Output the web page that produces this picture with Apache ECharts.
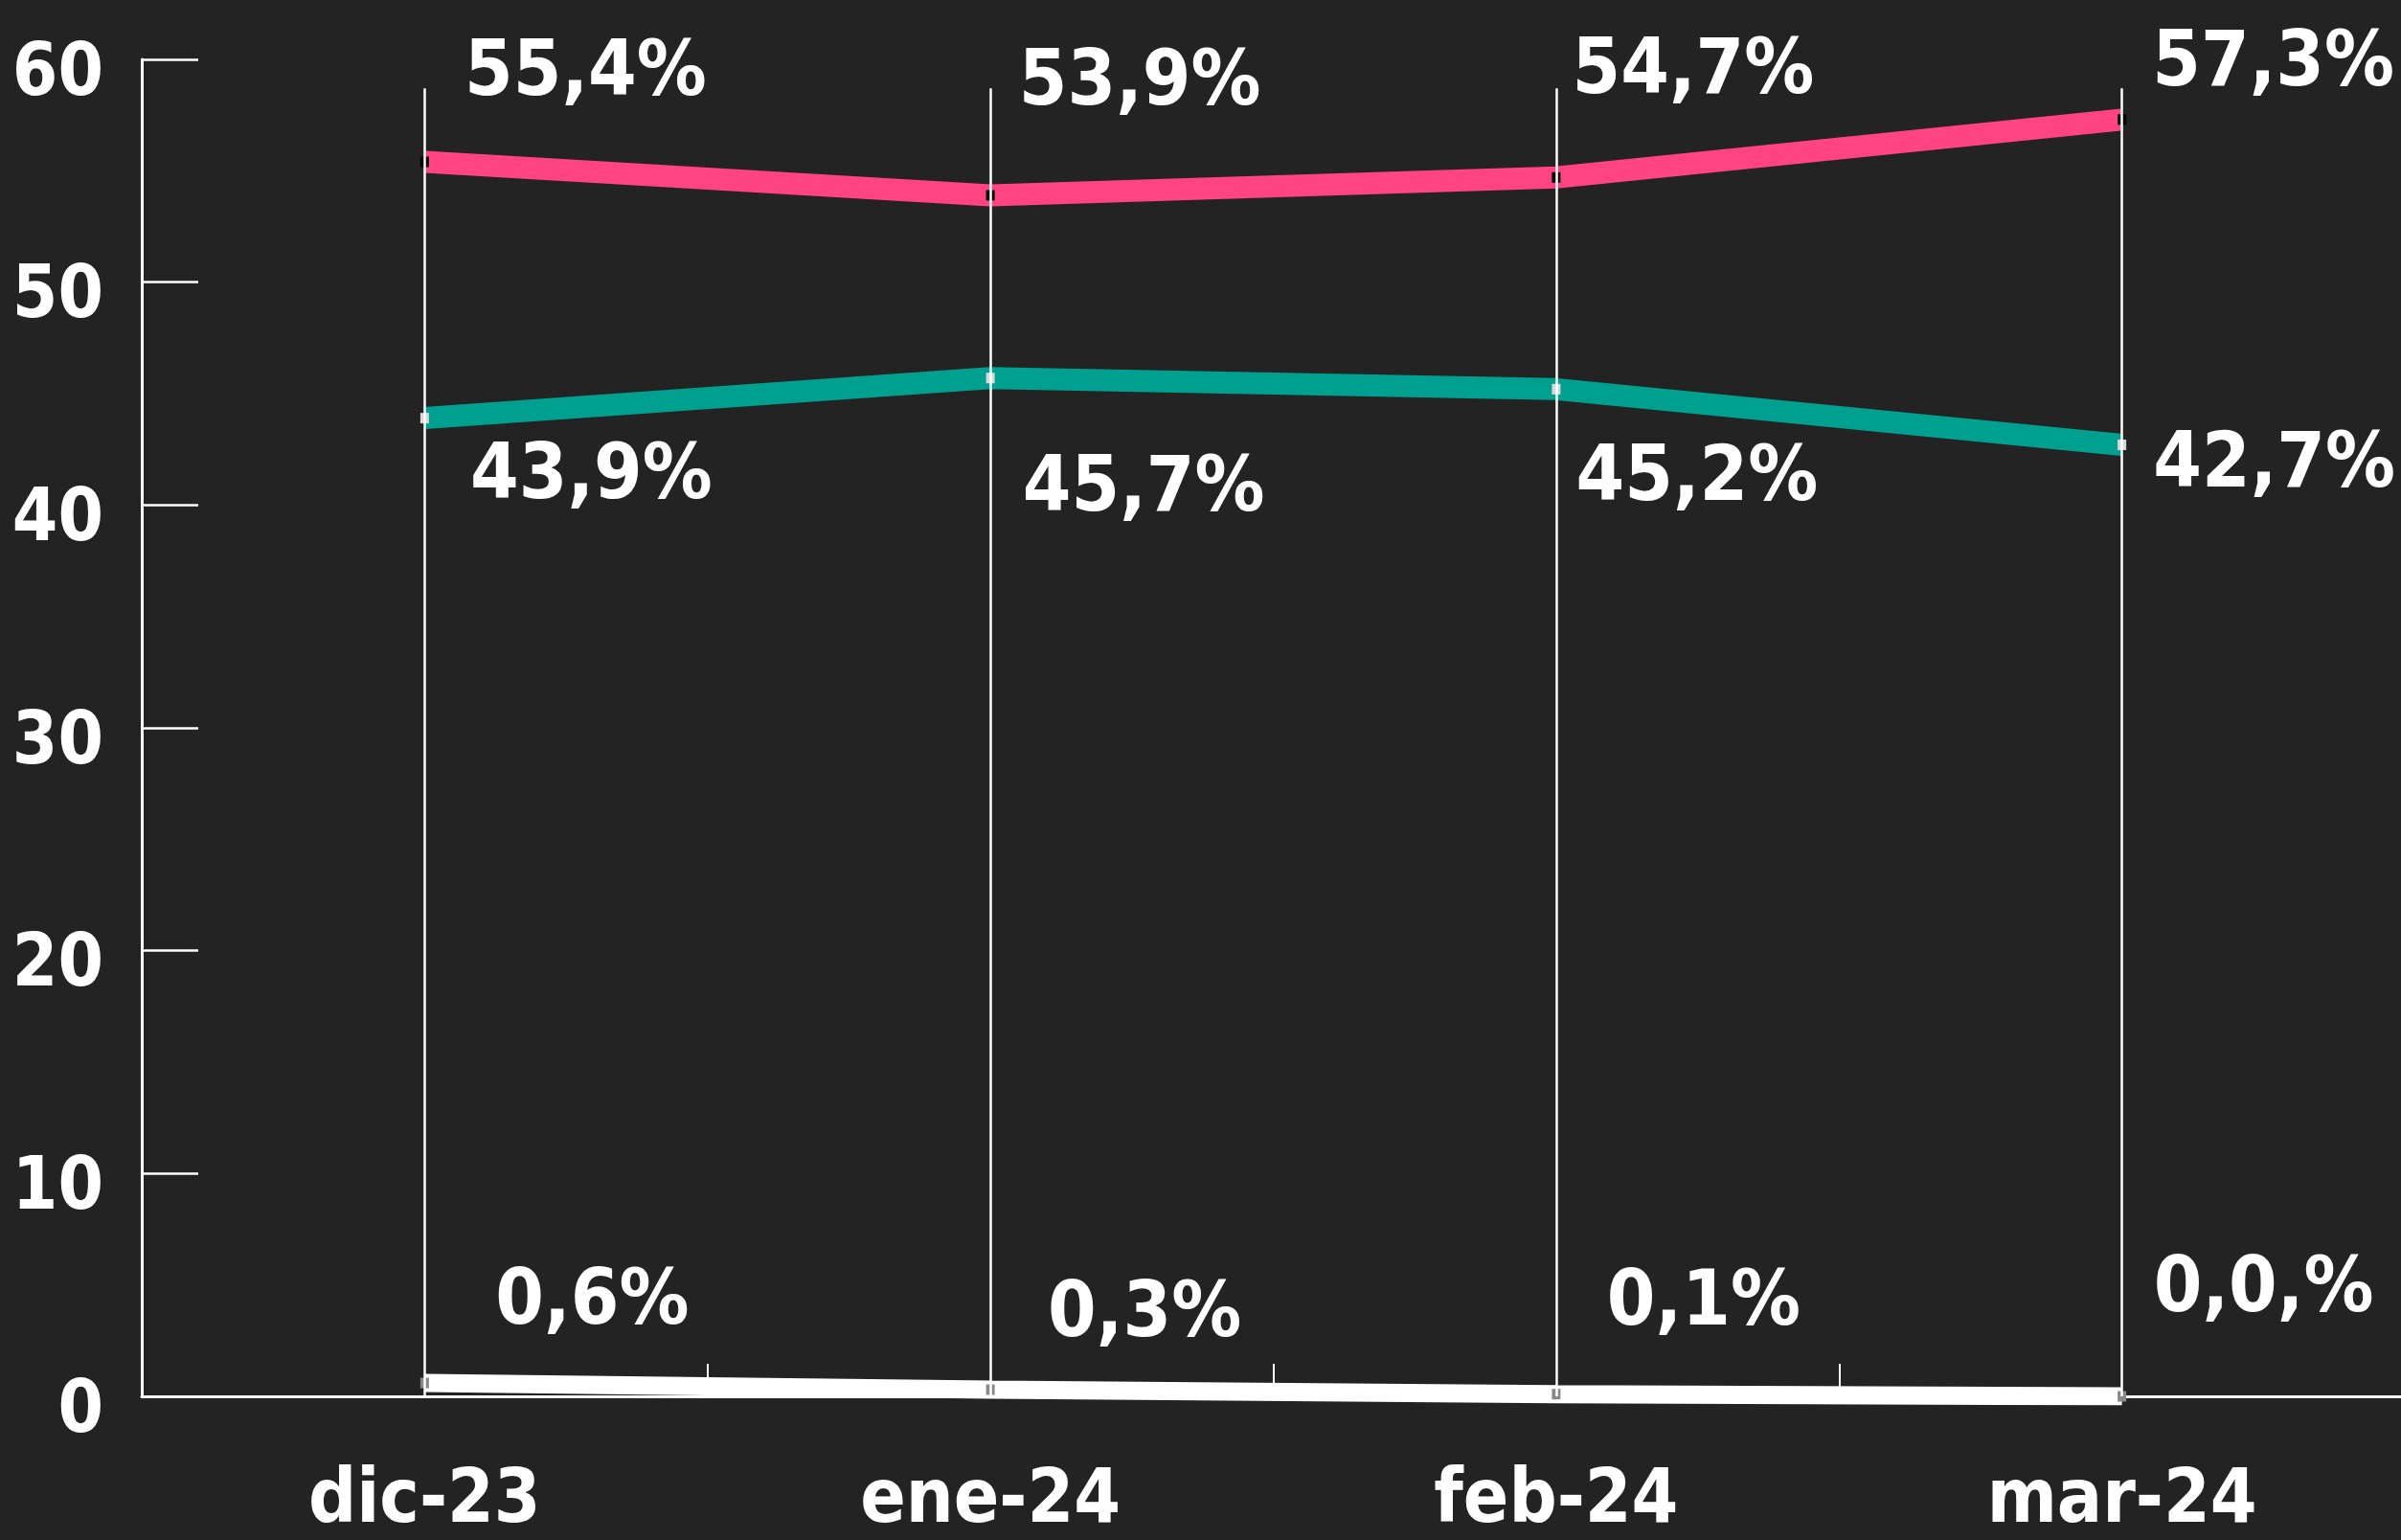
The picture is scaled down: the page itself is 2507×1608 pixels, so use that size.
<!DOCTYPE html>
<html>
<head>
<meta charset="utf-8">
<script src="https://cdn.jsdelivr.net/npm/echarts@6/dist/echarts.min.js"></script>
<style>
  html, body { margin: 0; padding: 0; background: #232323; overflow: hidden; }
  #chart { width: 2507px; height: 1608px; }
</style>
</head>
<body>
<div id="chart"></div>
<script>
// ---- data ----
const categories = ['dic-23', 'ene-24', 'feb-24', 'mar-24'];
const pinkValues = [55.4, 53.9, 54.7, 57.3];
const tealValues = [43.9, 45.7, 45.2, 42.7];
const whiteValues = [0.6, 0.3, 0.1, 0.0];
const pinkLabels = ['55,4%', '53,9%', '54,7%', '57,3%'];
const tealLabels = ['43,9%', '45,7%', '45,2%', '42,7%'];
const whiteLabels = ['0,6%', '0,3%', '0,1%', '0,0,%'];
const guideTop = 58.7;

// ---- styling (label offsets relative to points) ----
const pinkOffsets = [[168, -91], [156, -116], [143, -109], [158, -57]];
const tealOffsets = [[174, 62], [160, 117], [147, 95], [159, 22]];
const whiteOffsets = [[175, -83], [161, -77], [154, -94], [148, -110]];

const FONT = '"DejaVu Sans Condensed", "DejaVu Sans", sans-serif';

function buildData(values, offsets) {
  return values.map((v, i) => ({ value: v, label: { offset: offsets[i] } }));
}
function labelCfg(texts) {
  return {
    show: true,
    position: 'inside',
    color: '#ffffff',
    fontFamily: FONT,
    fontWeight: 'bold',
    fontSize: 81,
    formatter: p => texts[p.dataIndex]
  };
}

const chart = echarts.init(document.getElementById('chart'), null, { renderer: 'canvas' });
chart.setOption({
  backgroundColor: '#232323',
  animation: false,
  grid: { left: 148, right: -4, top: 62, bottom: 150, containLabel: false, outerBoundsMode: 'none' },
  xAxis: {
    type: 'category',
    data: categories,
    boundaryGap: true,
    axisLine: { show: true, lineStyle: { color: '#ffffff', width: 3 } },
    axisTick: { show: true, inside: true, length: 34, lineStyle: { color: '#ffffff', width: 2 } },
    axisLabel: { color: '#ffffff', fontFamily: FONT, fontWeight: 'bold', fontSize: 78, margin: 72 },
    splitLine: { show: false }
  },
  yAxis: {
    type: 'value',
    min: 0, max: 60, interval: 10,
    axisLine: { show: true, lineStyle: { color: '#ffffff', width: 3 } },
    axisTick: { show: true, inside: true, length: 59, lineStyle: { color: '#ffffff', width: 2.5 } },
    axisLabel: {
      color: '#ffffff', margin: 40,
      formatter: '{a|{value}}',
      rich: { a: { color: '#ffffff', fontFamily: FONT, fontWeight: 'bold', fontSize: 76, padding: [34, 0, 0, 0] } }
    },
    splitLine: { show: false }
  },
  series: [
    {
      type: 'line',
      data: whiteValues.map(() => 0),
      symbol: 'none',
      lineStyle: { opacity: 0 },
      silent: true,
      z: 1,
      markLine: {
        silent: true,
        symbol: 'none',
        label: { show: false },
        lineStyle: { color: '#ffffff', width: 2.5, type: 'solid' },
        data: categories.map(c => [{ coord: [c, 0] }, { coord: [c, guideTop] }])
      }
    },
    {
      type: 'line',
      data: buildData(pinkValues, pinkOffsets),
      symbol: 'rect',
      symbolSize: [9, 11],
      itemStyle: { color: '#000000' },
      lineStyle: { color: '#ff4383', width: 23 },
      label: labelCfg(pinkLabels),
      z: 3
    },
    {
      type: 'line',
      data: buildData(tealValues, tealOffsets),
      symbol: 'rect',
      symbolSize: [9, 11],
      itemStyle: { color: '#d8d8d8' },
      lineStyle: { color: '#00a090', width: 23 },
      label: labelCfg(tealLabels),
      z: 3
    },
    {
      type: 'line',
      data: buildData(whiteValues, whiteOffsets),
      symbol: 'rect',
      symbolSize: [9, 11],
      itemStyle: { color: '#888888' },
      lineStyle: { color: '#ffffff', width: 19 },
      label: labelCfg(whiteLabels),
      z: 3
    }
  ]
});
</script>
</body>
</html>
